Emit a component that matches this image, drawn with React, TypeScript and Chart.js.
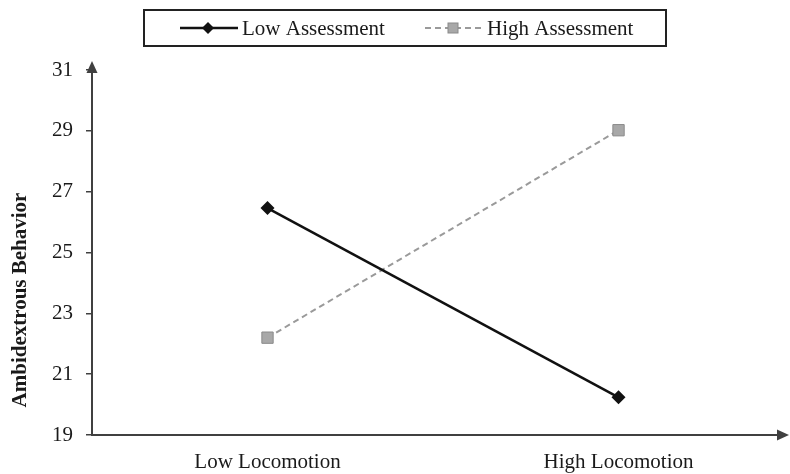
import React, { useEffect, useRef } from 'react';
import { Chart, registerables } from 'chart.js';

Chart.register(...registerables);

const categories = ['Low Locomotion', 'High Locomotion'];
const categoryPositions = [0.5, 1.5];
const seriesNames = ['Low Assessment', 'High Assessment'];
const lowAssessment = [26.46, 20.24];
const highAssessment = [22.2, 29.02];
const yTickValues = [19, 21, 23, 25, 27, 29, 31];
const yAxisTitle = 'Ambidextrous Behavior';

const FONT = '"Liberation Serif", "Times New Roman", serif';
const AXIS_COLOR = '#404040';
const LOW_COLOR = '#111111';
const HIGH_LINE = '#9a9a9a';
const HIGH_FILL = '#a8a8a8';

const decorPlugin = {
  id: 'decor',
  afterDraw(chart: any) {
    const ctx = chart.ctx as CanvasRenderingContext2D;
    const area = chart.chartArea;
    ctx.save();
    // axis arrows
    ctx.fillStyle = AXIS_COLOR;
    ctx.strokeStyle = AXIS_COLOR;
    ctx.lineWidth = 2;
    ctx.beginPath();
    ctx.moveTo(area.left, area.top);
    ctx.lineTo(area.left, area.top - 4);
    ctx.stroke();
    ctx.beginPath();
    ctx.moveTo(area.left, area.top - 9);
    ctx.lineTo(area.left - 5.5, area.top + 3);
    ctx.lineTo(area.left + 5.5, area.top + 3);
    ctx.closePath();
    ctx.fill();
    ctx.beginPath();
    ctx.moveTo(area.right + 9, area.bottom);
    ctx.lineTo(area.right - 3, area.bottom - 5.5);
    ctx.lineTo(area.right - 3, area.bottom + 5.5);
    ctx.closePath();
    ctx.fill();

    // y-axis title
    ctx.save();
    ctx.translate(21, 300);
    ctx.rotate(-Math.PI / 2);
    ctx.font = 'bold 21px ' + FONT;
    ctx.fillStyle = '#1a1a1a';
    ctx.textAlign = 'center';
    ctx.textBaseline = 'middle';
    ctx.fillText(yAxisTitle, 0, 0);
    ctx.restore();

    // legend box
    ctx.lineWidth = 2;
    ctx.strokeStyle = '#222';
    ctx.strokeRect(144, 10, 522, 36);
    const ly = 28;
    ctx.font = '21px ' + FONT;
    ctx.textBaseline = 'middle';
    ctx.textAlign = 'left';
    // low assessment
    ctx.strokeStyle = LOW_COLOR;
    ctx.lineWidth = 2.5;
    ctx.setLineDash([]);
    ctx.beginPath();
    ctx.moveTo(180, ly);
    ctx.lineTo(238, ly);
    ctx.stroke();
    ctx.fillStyle = LOW_COLOR;
    ctx.beginPath();
    ctx.moveTo(208, ly - 6);
    ctx.lineTo(214, ly);
    ctx.lineTo(208, ly + 6);
    ctx.lineTo(202, ly);
    ctx.closePath();
    ctx.fill();
    ctx.fillStyle = '#1a1a1a';
    ctx.fillText(seriesNames[0], 242, ly + 1);
    // high assessment
    ctx.strokeStyle = HIGH_LINE;
    ctx.lineWidth = 2;
    ctx.setLineDash([6, 4]);
    ctx.beginPath();
    ctx.moveTo(425, ly);
    ctx.lineTo(482, ly);
    ctx.stroke();
    ctx.setLineDash([]);
    ctx.fillStyle = HIGH_FILL;
    ctx.fillRect(448, ly - 5, 10, 10);
    ctx.strokeStyle = '#8a8a8a';
    ctx.lineWidth = 1;
    ctx.strokeRect(448, ly - 5, 10, 10);
    ctx.fillStyle = '#1a1a1a';
    ctx.fillText(seriesNames[1], 487, ly + 1);
    ctx.restore();
  },
};

export default function App() {
  const ref = useRef<HTMLCanvasElement | null>(null);
  useEffect(() => {
    if (!ref.current) return;
    const chart = new Chart(ref.current, {
      type: 'line',
      data: {
        datasets: [
          {
            label: seriesNames[0],
            data: categoryPositions.map((x, i) => ({ x, y: lowAssessment[i] })),
            borderColor: LOW_COLOR,
            backgroundColor: LOW_COLOR,
            borderWidth: 2.5,
            pointStyle: 'rectRot',
            pointRadius: 7,
            pointBorderWidth: 0,
            pointBackgroundColor: LOW_COLOR,
          },
          {
            label: seriesNames[1],
            data: categoryPositions.map((x, i) => ({ x, y: highAssessment[i] })),
            borderColor: HIGH_LINE,
            backgroundColor: HIGH_FILL,
            borderWidth: 2,
            borderDash: [6, 4],
            pointStyle: 'rect',
            pointRadius: 8,
            pointBorderWidth: 1,
            pointBorderColor: '#8a8a8a',
            pointBackgroundColor: HIGH_FILL,
          },
        ],
      },
      options: {
        responsive: false,
        animation: false,
        layout: { padding: { top: 70, right: 10, left: 0, bottom: 0 } },
        plugins: {
          legend: { display: false },
          title: { display: false },
          tooltip: { enabled: false },
        },
        scales: {
          x: {
            type: 'linear',
            min: 0,
            max: 1.96,
            afterBuildTicks: (s: any) => {
              s.ticks = categoryPositions.map((v) => ({ value: v }));
            },
            afterFit: (s: any) => {
              s.height = 39;
            },
            ticks: {
              autoSkip: false,
              maxRotation: 0,
              padding: 15,
              color: '#1a1a1a',
              font: { family: FONT, size: 21 },
              callback: (v: any) => categories[categoryPositions.indexOf(Number(v))] ?? '',
            },
            grid: { display: false, drawTicks: false },
            border: { display: true, color: AXIS_COLOR, width: 2 },
          },
          y: {
            type: 'linear',
            min: 19,
            max: 31,
            afterBuildTicks: (s: any) => {
              s.ticks = yTickValues.map((v) => ({ value: v }));
            },
            afterFit: (s: any) => {
              s.width = 92;
            },
            ticks: {
              padding: 13,
              color: '#1a1a1a',
              font: { family: FONT, size: 21 },
            },
            grid: {
              display: true,
              drawOnChartArea: false,
              drawTicks: true,
              tickLength: 6,
              color: AXIS_COLOR,
              lineWidth: 1.5,
            },
            border: { display: true, color: AXIS_COLOR, width: 2 },
          },
        },
      },
      plugins: [decorPlugin],
    } as any);
    return () => chart.destroy();
  }, []);
  return (
    <canvas
      ref={ref}
      width={790}
      height={474}
      style={{ position: 'fixed', left: 0, top: 0, width: '790px', height: '474px', background: '#fff' }}
    />
  );
}
